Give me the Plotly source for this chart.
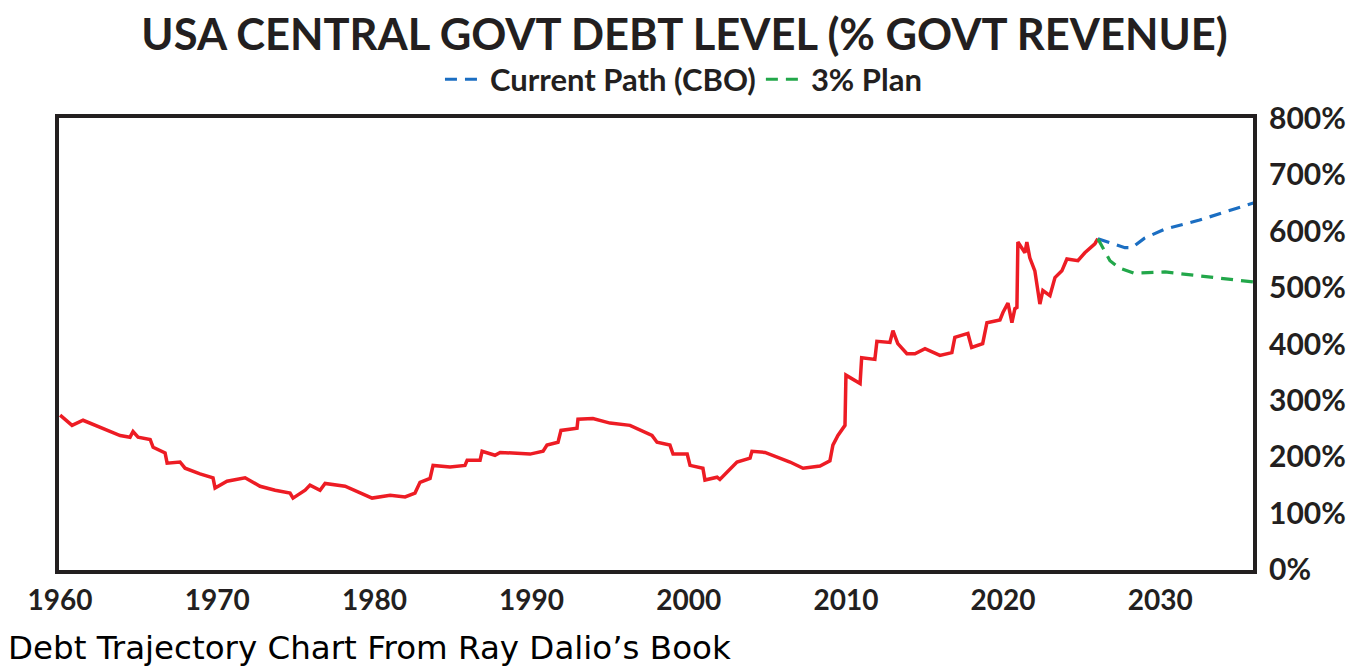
import plotly.graph_objects as go

# Historical debt level (% of govt revenue)
hist_years = [1960.0, 1960.76, 1961.46, 1962.54, 1963.82, 1964.45, 1964.64, 1964.96, 1965.73, 1965.92,
              1966.68, 1966.81, 1967.63, 1967.95, 1968.9, 1969.73, 1969.86, 1970.62, 1971.77, 1972.72,
              1973.68, 1974.63, 1974.82, 1975.59, 1975.9, 1976.54, 1976.86, 1978.13, 1979.08, 1979.85,
              1981.0, 1981.95, 1982.58, 1982.9, 1983.54, 1983.73, 1984.81, 1985.76, 1985.9, 1986.72,
              1986.85, 1987.67, 1988.0, 1989.9, 1990.73, 1990.98, 1991.68, 1991.87, 1992.89, 1992.95,
              1993.9, 1994.99, 1996.26, 1996.9, 1997.66, 1997.98, 1998.8, 1999.0, 1999.9, 2000.08,
              2000.9, 2001.03, 2001.8, 2001.98, 2003.07, 2003.9, 2004.02, 2004.85, 2006.44, 2007.27,
              2008.35, 2008.98, 2009.17, 2009.49, 2009.94, 2010.0, 2010.9, 2011.0, 2011.84, 2011.97,
              2012.8, 2012.99, 2013.3, 2013.88, 2014.39, 2015.03, 2015.98, 2016.74, 2016.93, 2017.76,
              2018.0, 2018.7, 2018.97, 2019.8, 2019.99, 2020.31, 2020.43, 2020.56, 2020.75, 2020.88,
              2020.94, 2021.39, 2021.51, 2021.7, 2022.02, 2022.34, 2022.53, 2022.98, 2023.3, 2023.74,
              2024.06, 2024.76, 2025.2, 2025.84, 2026.03]
hist_values = [274, 256, 265, 253, 238, 235, 245, 235, 231, 217,
               207, 189, 191, 180, 170, 163, 145, 157, 163, 148,
               141, 136, 127, 141, 150, 141, 153, 148, 136, 127,
               132, 129, 136, 155, 162, 185, 182, 185, 194, 194,
               210, 203, 208, 205, 210, 221, 226, 247, 251, 267,
               268, 260, 256, 247, 238, 226, 221, 205, 205, 185,
               180, 159, 164, 160, 191, 198, 210, 208, 191, 180,
               184, 193, 221, 238, 256, 345, 330, 376, 373, 405,
               403, 424, 401, 383, 383, 392, 380, 385, 412, 419,
               394, 401, 438, 443, 456, 473, 454, 438, 463, 465,
               581, 562, 581, 553, 530, 471, 495, 486, 518, 530,
               551, 548, 562, 578, 587]

# Projections
cbo_years = [2026.03, 2026.8, 2027.75, 2028.2, 2029.0, 2030.3, 2031.9, 2032.5, 2034.3, 2036.0]
cbo_values = [587, 580, 571, 571, 588, 604, 615, 620, 636, 651]
plan_years = [2026.03, 2026.8, 2027.4, 2028.3, 2030.3, 2032.5, 2036.0]
plan_values = [587, 548, 535, 526, 528, 521, 510]

x_ticks = [1960, 1970, 1980, 1990, 2000, 2010, 2020, 2030]
y_ticks = [0, 100, 200, 300, 400, 500, 600, 700, 800]
y_tick_labels = [f"{v}%" for v in y_ticks]

TXT = "#231f20"
FONT = "Lato"

fig = go.Figure()
fig.add_trace(go.Scatter(x=hist_years, y=hist_values, mode="lines",
                         line=dict(color="#ED1C24", width=3.5), showlegend=False))
fig.add_trace(go.Scatter(x=cbo_years, y=cbo_values, mode="lines", name="Current Path (CBO)",
                         line=dict(color="#1B6EC2", width=3.2, dash="12px,8px")))
fig.add_trace(go.Scatter(x=plan_years, y=plan_values, mode="lines", name="3% Plan",
                         line=dict(color="#22A74A", width=3.2, dash="12px,8px")))

fig.update_layout(
    width=1361, height=666,
    margin=dict(l=59, r=108, t=118, b=96, autoexpand=False),
    paper_bgcolor="white", plot_bgcolor="white",
    title=dict(text="USA CENTRAL GOVT DEBT LEVEL (% GOVT REVENUE)",
               x=0.503, xref="container", xanchor="center",
               y=1 - 35 / 666, yref="container", yanchor="middle",
               font=dict(family=FONT, size=43.5, color=TXT, weight="bold")),
    legend=dict(orientation="h", x=0.523, xref="paper", xanchor="center",
                y=1.085, yanchor="middle",
                font=dict(family=FONT, size=31, color=TXT, weight="bold"),
                itemwidth=40, bgcolor="rgba(0,0,0,0)"),
    xaxis=dict(range=[1959.93, 2035.9], tickvals=x_ticks, ticks="",
               showgrid=False, zeroline=False,
               showline=True, mirror=True, linewidth=4, linecolor=TXT,
               tickfont=dict(family=FONT, size=28, color=TXT, weight="bold"),
               ticklabelstandoff=2),
    yaxis=dict(range=[-0.5, 801], side="right", tickvals=y_ticks, ticktext=y_tick_labels,
               ticks="", showgrid=False, zeroline=False,
               showline=True, mirror=True, linewidth=4, linecolor=TXT,
               tickfont=dict(family=FONT, size=30, color=TXT, weight="bold"),
               ticklabelstandoff=6),
    annotations=[dict(text="Debt Trajectory Chart From Ray Dalio\u2019s Book",
                      xref="paper", yref="paper", x=0, y=0,
                      xanchor="left", yanchor="middle", xshift=-53, yshift=-78,
                      showarrow=False,
                      font=dict(family="DejaVu Sans", size=32.5, color="black"))],
)

fig.write_html("out.html", config={"displayModeBar": False},
               post_script="document.body.style.margin='0';")
